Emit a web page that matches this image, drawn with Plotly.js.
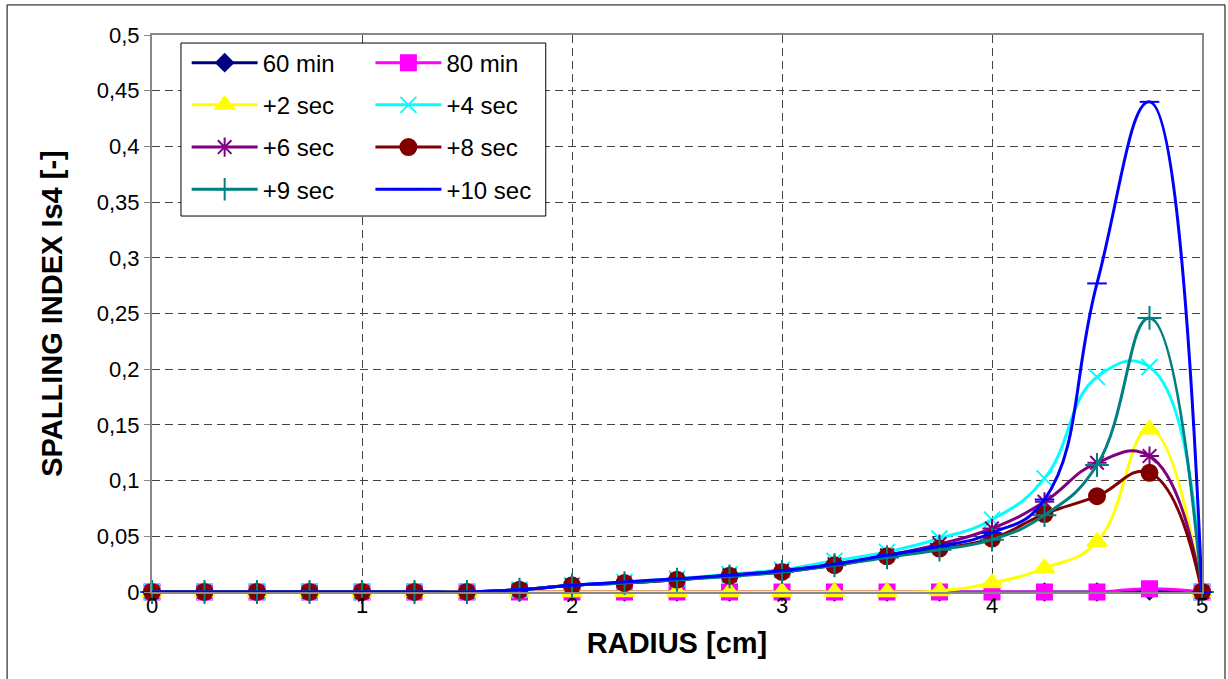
<!DOCTYPE html>
<html>
<head>
<meta charset="utf-8">
<script src="https://cdn.plot.ly/plotly-3.0.1.min.js"></script>
<style>
html,body{margin:0;padding:0;background:#fff;}
#chart{width:1228px;height:679px;}
</style>
</head>
<body>
<div id="chart"></div>
<script>
// RADIUS [cm]
const radius = [0, 0.25, 0.5, 0.75, 1, 1.25, 1.5, 1.75, 2, 2.25, 2.5, 2.75, 3, 3.25, 3.5, 3.75, 4, 4.25, 4.5, 4.75, 5];

// SPALLING INDEX Is4 [-]
const min60  = [0, 0, 0, 0, 0, 0, 0, 0, 0, 0, 0, 0, 0, 0, 0, 0, 0, 0, 0, 0.001, 0];
const min80  = [0, 0, 0, 0, 0, 0, 0, 0, 0, 0, 0, 0, 0, 0, 0, 0, 0, 0, 0, 0.003, 0];
const sec2   = [0, 0, 0, 0, 0, 0, 0, 0, 0, 0, 0, 0, 0, 0, 0, 0.001, 0.008, 0.0215, 0.045, 0.146, 0];
const sec4   = [0, 0, 0, 0, 0, 0, 0, 0.002, 0.006, 0.009, 0.012, 0.016, 0.020, 0.028, 0.036, 0.048, 0.065, 0.102, 0.193, 0.202, 0];
const sec6   = [0, 0, 0, 0, 0, 0, 0, 0.002, 0.006, 0.008, 0.011, 0.015, 0.019, 0.025, 0.033, 0.043, 0.057, 0.081, 0.116, 0.122, 0];
const sec8   = [0, 0, 0, 0, 0, 0, 0, 0.002, 0.006, 0.008, 0.011, 0.0145, 0.018, 0.024, 0.032, 0.039, 0.048, 0.070, 0.086, 0.107, 0];
const sec9   = [0, 0, 0, 0, 0, 0, 0, 0.002, 0.006, 0.008, 0.011, 0.014, 0.018, 0.024, 0.031, 0.038, 0.047, 0.069, 0.114, 0.246, 0];
const sec10  = [0, 0, 0, 0, 0, 0, 0, 0.002, 0.006, 0.009, 0.012, 0.015, 0.019, 0.025, 0.033, 0.041, 0.053, 0.083, 0.277, 0.440, 0];

const seriesNames = ['60 min', '80 min', '+2 sec', '+4 sec', '+6 sec', '+8 sec', '+9 sec', '+10 sec'];
const seriesValues = [min60, min80, sec2, sec4, sec6, sec8, sec9, sec10];

const styles = [
  {color: '#000080', symbol: 'diamond', size: 13, legend: 'legend'},
  {color: '#FF00FF', symbol: 'square', size: 15, legend: 'legend2'},
  {color: '#FFFF00', symbol: 'triangle-up', size: 17, legend: 'legend'},
  {color: '#00FFFF', symbol: 'x-thin-open', size: 16, legend: 'legend2'},
  {color: '#800080', symbol: 'asterisk-open', size: 16, legend: 'legend'},
  {color: '#800000', symbol: 'circle', size: 16, legend: 'legend2'},
  {color: '#008080', symbol: 'cross-thin-open', size: 17, legend: 'legend'},
  {color: '#0000FF', symbol: 'line-ew-open', size: 14, legend: 'legend2'}
];

const traces = seriesNames.map((name, i) => ({
  x: radius,
  y: seriesValues[i],
  name: name,
  type: 'scatter',
  mode: 'lines+markers',
  legend: styles[i].legend,
  legendgroup: 'g' + i,
  line: {color: styles[i].color, width: 3, shape: 'spline', smoothing: 1.3},
  marker: {
    symbol: styles[i].symbol,
    size: styles[i].size,
    color: styles[i].color,
    line: {color: styles[i].color, width: 2}
  },
  cliponaxis: false
}));

const legendCommon = {
  orientation: 'v',
  xanchor: 'left',
  yanchor: 'top',
  bgcolor: 'rgba(0,0,0,0)',
  borderwidth: 0,
  font: {family: 'Liberation Sans, Arial, sans-serif', size: 24, color: '#000'},
  tracegroupgap: 8,
  itemwidth: 66
};

const layout = {
  width: 1228,
  height: 679,
  margin: {l: 152, r: 26, t: 35, b: 87},
  paper_bgcolor: '#fff',
  plot_bgcolor: '#fff',
  separators: ', ',
  font: {family: 'Liberation Sans, Arial, sans-serif', size: 20, color: '#000'},
  showlegend: true,
  legend: Object.assign({}, legendCommon, {x: 0.033, y: 0.99}),
  legend2: Object.assign({}, legendCommon, {x: 0.208, y: 0.99}),
  xaxis: {
    range: [0, 5],
    dtick: 1,
    tick0: 0,
    showgrid: true,
    gridcolor: '#444',
    griddash: '8px,5px',
    gridwidth: 1,
    showline: true,
    linecolor: '#888',
    linewidth: 2,
    mirror: true,
    ticks: '',
    ticklabelstandoff: -7,
    zeroline: false,
    tickfont: {size: 22},
    title: {text: '<b>RADIUS [cm]</b>', font: {size: 29}, standoff: 15}
  },
  yaxis: {
    range: [0, 0.5],
    dtick: 0.05,
    tick0: 0,
    showgrid: true,
    gridcolor: '#444',
    griddash: '8px,5px',
    gridwidth: 1,
    showline: true,
    linecolor: '#888',
    linewidth: 2,
    mirror: true,
    ticks: 'outside',
    ticklen: 6,
    tickcolor: '#888',
    zeroline: false,
    tickfont: {size: 22},
    title: {text: '<b>SPALLING INDEX Is4 [-]</b>', font: {size: 29}, standoff: 26}
  },
  shapes: [
    {type: 'rect', xref: 'paper', yref: 'paper', x0: 0.0276, x1: 0.375, y0: 0.675, y1: 0.9856,
     line: {color: '#000', width: 1}, fillcolor: '#fff', layer: 'above'},
    {type: 'rect', xref: 'paper', yref: 'paper', x0: -0.138, x1: 1.0219, y0: -0.2, y1: 1.054,
     line: {color: '#000', width: 1}, fillcolor: 'rgba(0,0,0,0)', layer: 'below'}
  ]
};

Plotly.newPlot('chart', traces, layout, {staticPlot: true, displayModeBar: false});
</script>
</body>
</html>
